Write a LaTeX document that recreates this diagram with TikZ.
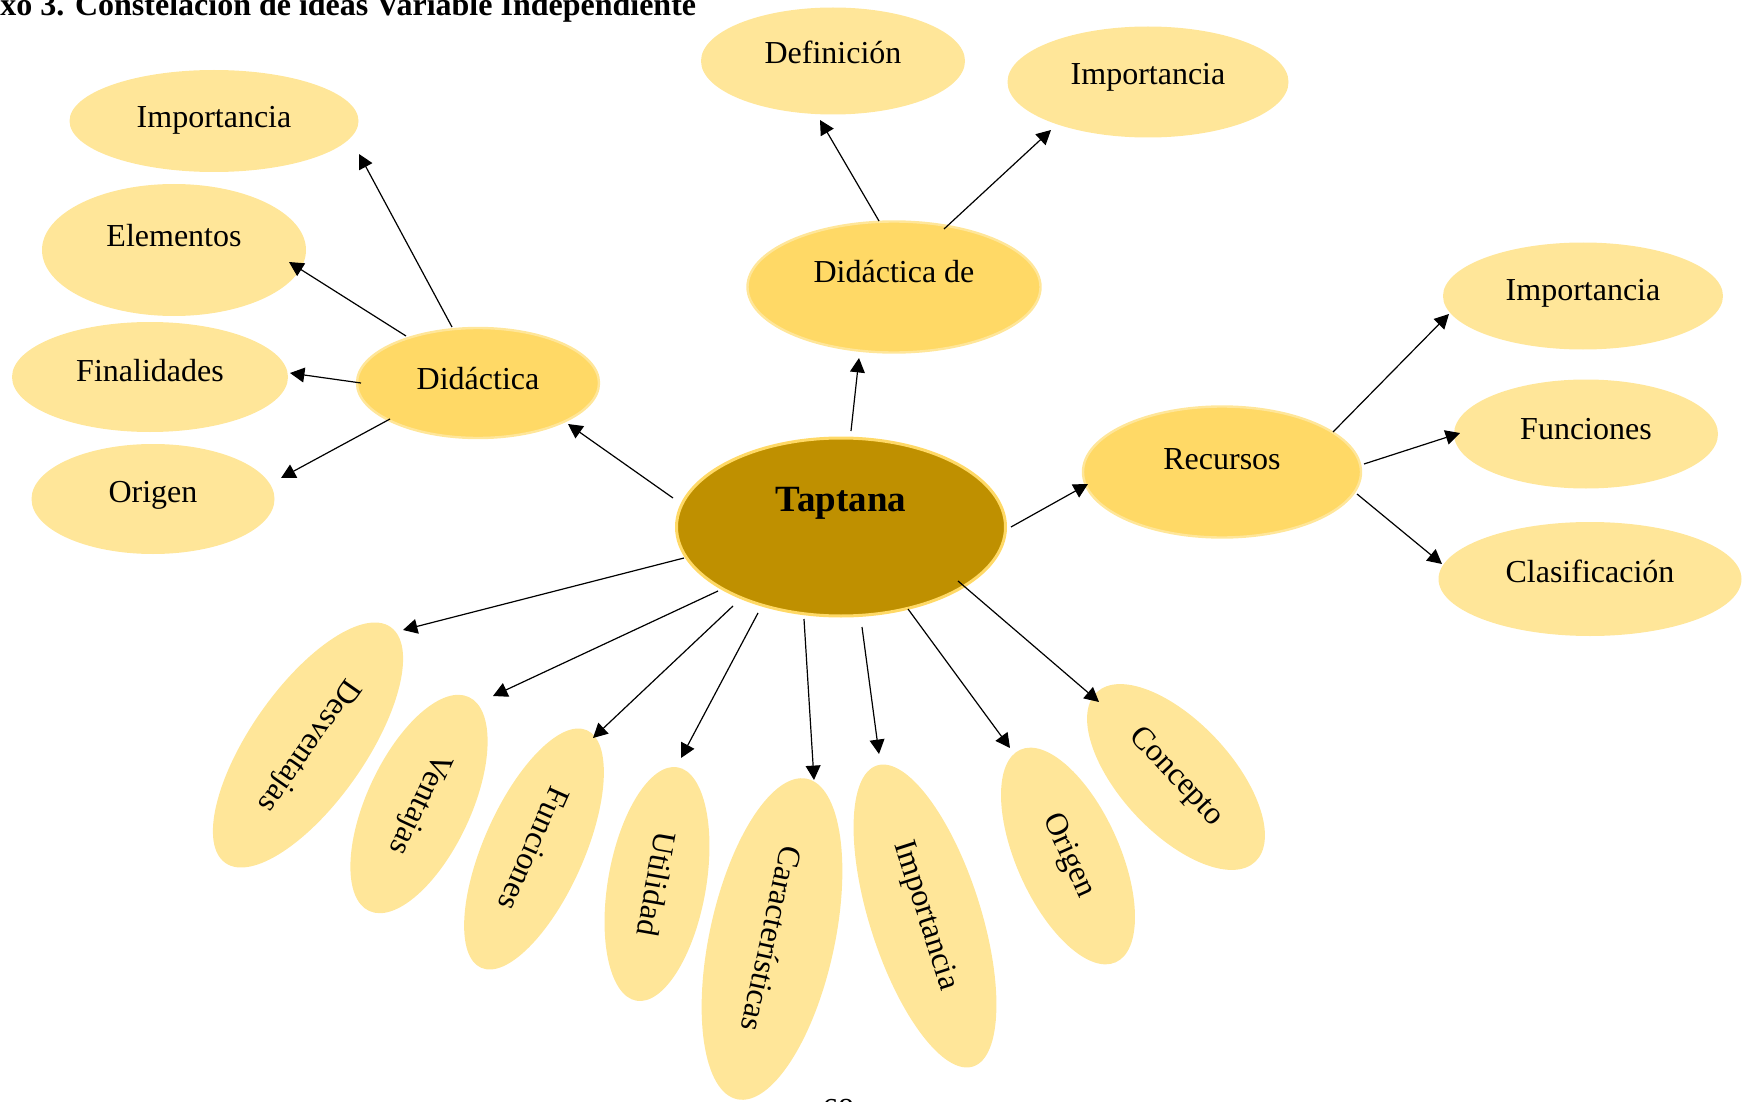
\documentclass[tikz,border=0pt]{standalone}
\usepackage{fontspec}
\setmainfont{Liberation Serif}
\usetikzlibrary{shapes.geometric,arrows.meta,calc}
\definecolor{corefill}{HTML}{BF9000}
\definecolor{coreline}{HTML}{FFD966}
\definecolor{midfill}{HTML}{FFD966}
\definecolor{midline}{HTML}{FFE699}
\definecolor{leaffill}{HTML}{FFE699}

\begin{document}
\begin{tikzpicture}[x=0.5pt,y=-0.5pt,
  every node/.style={font=\fontsize{16}{19}\selectfont, inner sep=0pt},
  core/.style={ellipse, fill=corefill, draw=coreline, line width=1.5pt},
  mid/.style={ellipse, fill=midfill, draw=midline, line width=1.2pt},
  leaf/.style={ellipse, fill=leaffill},
  sz/.style 2 args={minimum width=#1*0.5pt, minimum height=#2*0.5pt},
  lbl/.style={anchor=base},
  arr/.style={-{Triangle[length=7.2pt,width=7.4pt]}, line width=0.6pt}
]
\clip (0,0) rectangle (1742,1102);

% heading and page number
\node[anchor=base west, font=\bfseries\fontsize{16}{19}\selectfont] (title) at (0,16)
  {xo 3. Constelación de ideas Variable Independiente};
\node[anchor=base] (pg) at (838,1120) {68};

% centre
\node[core, sz={329}{178}] (tap) at (841,527) {};
\node[lbl, font=\bfseries\fontsize{18.5}{22}\selectfont] at ($(tap)+(0,-16)$) {Taptana};

% second level
\node[mid, sz={293}{131}] (didde) at (894,287) {};
\node[lbl] at ($(didde)+(0,-5)$) {Didáctica de};
\node[mid, sz={242}{110}] (did) at (478,383) {};
\node[lbl] at ($(did)+(0,6)$) {Didáctica};
\node[mid, sz={278}{131}] (rec) at (1222,472) {};
\node[lbl] at ($(rec)+(0,-3)$) {Recursos};

% leaves of "Didáctica de"
\node[leaf, sz={264}{107}] (def) at (833,61) {};
\node[lbl] at ($(def)+(0,3)$) {Definición};
\node[leaf, sz={281}{111}] (impT) at (1148,82) {};
\node[lbl] at ($(impT)+(0,3)$) {Importancia};

% leaves of "Didáctica"
\node[leaf, sz={289}{102}] (impL) at (214,121) {};
\node[lbl] at ($(impL)+(0,7)$) {Importancia};
\node[leaf, sz={264}{132}] (ele) at (174,250) {};
\node[lbl] at ($(ele)+(0,-3)$) {Elementos};
\node[leaf, sz={276}{110}] (fin) at (150,377) {};
\node[lbl] at ($(fin)+(0,4)$) {Finalidades};
\node[leaf, sz={243}{110}] (oriL) at (153,499) {};
\node[lbl] at ($(oriL)+(0,3)$) {Origen};

% leaves of "Recursos"
\node[leaf, sz={280}{107}] (impR) at (1583,296) {};
\node[lbl] at ($(impR)+(0,4)$) {Importancia};
\node[leaf, sz={264}{109}] (funR) at (1586,434) {};
\node[lbl] at ($(funR)+(0,5)$) {Funciones};
\node[leaf, sz={303}{114}] (cla) at (1590,579) {};
\node[lbl] at ($(cla)+(0,3)$) {Clasificación};

% tilted leaves under the centre
\node[leaf, sz={288}{115}, rotate=235] (desv) at (308,745) {Desventajas};
\node[leaf, sz={236}{104}, rotate=245] (vent) at (419,804) {Ventajas};
\node[leaf, sz={260}{100}, rotate=246] (funB) at (534,849) {Funciones};
\node[leaf, sz={237}{98}, rotate=260] (util) at (657,884) {Utilidad};
\node[leaf, sz={328}{125}, rotate=257.7] (car) at (772,939) {Características};
\node[leaf, sz={316}{111}, rotate=287.7] (impB) at (925,916) {Importancia};
\node[leaf, sz={233}{103}, rotate=294.2] (oriB) at (1068,856) {Origen};
\node[leaf, sz={232}{111}, rotate=313] (con) at (1176,777) {Concepto};

% connectors from the centre
\draw[arr] ($(tap)+(-168,-29)$) -- ($(did)+(90,41)$);
\draw[arr] ($(tap)+(10,-96)$) -- ($(didde)+(-35,71)$);
\draw[arr] ($(tap)+(170,0)$) -- ($(rec)+(-134,12)$);
\draw[arr] ($(tap)+(-157,31)$) -- ($(desv)+(95,-115)$);
\draw[arr] ($(tap)+(-123,64)$) -- ($(vent)+(74,-108)$);
\draw[arr] ($(tap)+(-108,79)$) -- ($(funB)+(59,-111)$);
\draw[arr] ($(tap)+(-83,86)$) -- ($(util)+(24,-126)$);
\draw[arr] ($(tap)+(-37,92)$) -- ($(car)+(42,-159)$);
\draw[arr] ($(tap)+(21,100)$) -- ($(impB)+(-46,-162)$);
\draw[arr] ($(tap)+(67,82)$) -- ($(oriB)+(-58,-108)$);
\draw[arr] ($(tap)+(117,54)$) -- ($(con)+(-77,-75)$);

% connectors from "Didáctica de"
\draw[arr] ($(didde)+(-15,-66)$) -- ($(def)+(-13,59)$);
\draw[arr] ($(didde)+(50,-58)$) -- ($(impT)+(-97,48)$);

% connectors from "Didáctica"
\draw[arr] ($(did)+(-26,-56)$) -- ($(impL)+(145,33)$);
\draw[arr] ($(did)+(-72,-47)$) -- ($(ele)+(115,12)$);
\draw[arr] ($(did)+(-117,0)$) -- ($(fin)+(140,-4)$);
\draw[arr] ($(did)+(-88,36)$) -- ($(oriL)+(128,-21)$);

% connectors from "Recursos"
\draw[arr] ($(rec)+(111,-40)$) -- ($(impR)+(-134,18)$);
\draw[arr] ($(rec)+(142,-8)$) -- ($(funR)+(-126,-1)$);
\draw[arr] ($(rec)+(135,22)$) -- ($(cla)+(-148,-15)$);
\end{tikzpicture}
\end{document}
